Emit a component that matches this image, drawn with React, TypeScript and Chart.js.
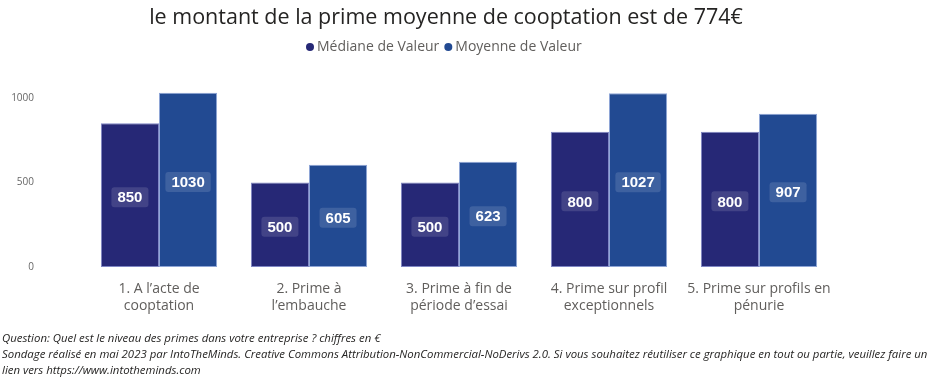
import React, { useEffect, useRef } from "react";
import { Chart, registerables } from "chart.js";

Chart.register(...registerables);

const categories: string[][] = [
  ["1. A l’acte de", "cooptation"],
  ["2. Prime à", "l’embauche"],
  ["3. Prime à fin de", "période d’essai"],
  ["4. Prime sur profil", "exceptionnels"],
  ["5. Prime sur profils en", "pénurie"],
];
const medianeValues = [850, 500, 500, 800, 800];
const moyenneValues = [1030, 605, 623, 1027, 907];
const seriesNames = ["Médiane de Valeur", "Moyenne de Valeur"];
const yTicks = [0, 500, 1000];
const titleText = "le montant de la prime moyenne de cooptation est de 774€";
const footerLines = [
  "Question: Quel est le niveau des primes dans votre entreprise ? chiffres en €",
  "Sondage réalisé en mai 2023 par IntoTheMinds. Creative Commons Attribution-NonCommercial-NoDerivs 2.0. Si vous souhaitez réutiliser ce graphique en tout ou partie, veuillez faire un",
  "lien vers https://www.intotheminds.com",
];

const COLORS = ["#262876", "#224a92"];
const BORDERS = ["#7f86c4", "#8ea5d6"];

const decorPlugin = {
  id: "decor",
  afterDraw(chart: any) {
    const ctx = chart.ctx;
    ctx.save();
    // title
    ctx.fillStyle = "#252423";
    ctx.font = "500 21.5px 'Open Sans'";
    ctx.textAlign = "center";
    ctx.textBaseline = "middle";
    ctx.fillText(titleText, 446, 18);
    // legend
    ctx.font = "14px 'Open Sans'";
    ctx.textAlign = "left";
    let x = 306;
    seriesNames.forEach((n, i) => {
      ctx.fillStyle = COLORS[i];
      ctx.beginPath();
      ctx.arc(x + 4, 47, 4, 0, Math.PI * 2);
      ctx.fill();
      ctx.fillStyle = "#605e5c";
      ctx.fillText(n, x + 11, 47);
      x += 11 + ctx.measureText(n).width + 5;
    });
    // footer
    ctx.fillStyle = "#252423";
    ctx.font = "italic 11.4px 'Open Sans'";
    footerLines.forEach((l, i) => ctx.fillText(l, 2, 339 + i * 16));
    // data labels
    chart.data.datasets.forEach((ds: any, di: number) => {
      const meta = chart.getDatasetMeta(di);
      meta.data.forEach((bar: any, i: number) => {
        const v = ds.data[i];
        const txt = String(v);
        ctx.font = "bold 15px 'Liberation Sans'";
        const w = ctx.measureText(txt).width + 12;
        const h = 20;
        const cx = bar.x;
        const cy = (bar.y + bar.base) / 2 + 2;
        ctx.fillStyle = "rgba(255,255,255,0.13)";
        ctx.beginPath();
        (ctx as any).roundRect(cx - w / 2, cy - h / 2, w, h, 3);
        ctx.fill();
        ctx.fillStyle = "#ffffff";
        ctx.textAlign = "center";
        ctx.textBaseline = "middle";
        ctx.fillText(txt, cx, cy + 1);
      });
    });
    ctx.restore();
  },
};

export default function App() {
  const ref = useRef<HTMLCanvasElement>(null);
  useEffect(() => {
    const chart = new Chart(ref.current!, {
      type: "bar",
      data: {
        labels: categories,
        datasets: [
          {
            label: seriesNames[0],
            data: medianeValues,
            backgroundColor: COLORS[0],
            borderColor: BORDERS[0],
            borderWidth: 1,
            borderSkipped: false,
            barPercentage: 1,
            categoryPercentage: 0.775,
          },
          {
            label: seriesNames[1],
            data: moyenneValues,
            backgroundColor: COLORS[1],
            borderColor: BORDERS[1],
            borderWidth: 1,
            borderSkipped: false,
            barPercentage: 1,
            categoryPercentage: 0.775,
          },
        ],
      },
      plugins: [decorPlugin],
      options: {
        animation: false,
        responsive: false,
        maintainAspectRatio: false,
        layout: { padding: { top: 81, right: 113, bottom: 0, left: 0 } },
        plugins: {
          legend: { display: false },
          title: { display: false },
          tooltip: { enabled: false },
        },
        scales: {
          x: {
            grid: { display: false },
            border: { display: false },
            ticks: {
              color: "#605e5c",
              font: { family: "'Open Sans'", size: 14 },
              padding: 6,
              maxRotation: 0,
              autoSkip: false,
            },
            afterFit: (s: any) => {
              s.height = 120;
            },
          },
          y: {
            min: 0,
            max: 1100,
            grid: { display: false },
            border: { display: false },
            afterBuildTicks: (s: any) => {
              s.ticks = yTicks.map((v) => ({ value: v }));
            },
            ticks: {
              color: "#666666",
              font: { family: "'Open Sans'", size: 10 },
              padding: 42,
              callback: (v: any) => String(v),
            },
            afterFit: (s: any) => {
              s.width = 84;
            },
          },
        },
      },
    });
    return () => chart.destroy();
  }, []);
  return (
    <div style={{ position: "absolute", left: 0, top: 0, width: 947, height: 387, background: "#fff" }}>
      <canvas ref={ref} width={947} height={387} />
    </div>
  );
}
